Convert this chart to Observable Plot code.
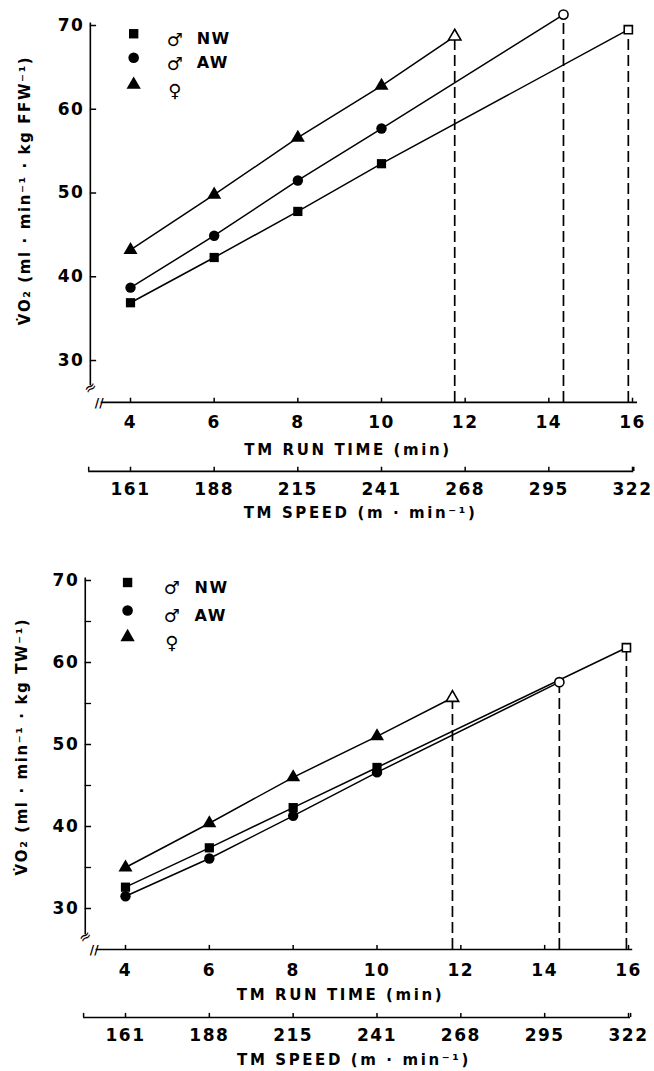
<!DOCTYPE html>
<html><head><meta charset="utf-8">
<script src="https://cdn.jsdelivr.net/npm/d3@7"></script>
<script src="https://cdn.jsdelivr.net/npm/@observablehq/plot@0.6"></script>
<style>
body{margin:0;background:#fff;}
#c{width:654px;}
svg{display:block;}
</style></head><body><div id="c"></div>
<script>
// ---- data ----
const runTimes = [4, 6, 8, 10];
const timeTicks = [4, 6, 8, 10, 12, 14, 16];
const timeTickLabels = ["4", "6", "8", "10", "12", "14", "16"];
const speedTickLabels = ["161", "188", "215", "241", "268", "295", "322"];
const yMajorTicks = [30, 40, 50, 60, 70];
const yMinorTicks = [35, 45, 55, 65];

// VO2 per kg fat-free weight (top panel)
const ffwNW = [36.9, 42.3, 47.8, 53.5];
const ffwAW = [38.7, 44.9, 51.5, 57.7];
const ffwF  = [43.2, 49.8, 56.6, 62.8];
const ffwEndTimes  = [15.9, 14.35, 11.75];   // NW, AW, female (max run time)
const ffwEndValues = [69.5, 71.3, 68.7];

// VO2 per kg total weight (bottom panel)
const twNW = [32.6, 37.4, 42.3, 47.2];
const twAW = [31.5, 36.1, 41.3, 46.6];
const twF  = [35.0, 40.4, 46.0, 51.0];
const twEndTimes  = [15.95, 14.35, 11.8];
const twEndValues = [61.8, 57.6, 55.7];

const groupSymbols = ["square", "circle", "triangle"];
const legendSex = ["\u2642", "\u2642", "\u2640"];
const legendText = ["NW", "AW", ""];

const xTitle = "TM RUN TIME (min)";
const speedTitle = "TM SPEED (m \u00b7 min\u207b\u00b9)";
const yTitleTop = "V\u0307O\u2082 (ml \u00b7 min\u207b\u00b9 \u00b7 kg FFW\u207b\u00b9)";
const yTitleBottom = "V\u0307O\u2082 (ml \u00b7 min\u207b\u00b9 \u00b7 kg TW\u207b\u00b9)";

const FONT = "DejaVu Sans";

function panel(cfg) {
  const series = [cfg.nw, cfg.aw, cfg.f];
  const base = cfg.yDomain[0];
  const tickLen = cfg.tickLen;
  const marks = [];
  // axes
  marks.push(Plot.ruleX([cfg.yAxisX], {y1: cfg.yAxisFrom, y2: cfg.yAxisTo, strokeWidth: 1.6}));
  marks.push(Plot.ruleY(yMajorTicks, {y: d => d, x1: cfg.yAxisX, x2: cfg.yAxisX + cfg.yTickLen, strokeWidth: 1.5}));
  if (cfg.minor) marks.push(Plot.ruleY(yMinorTicks, {y: d => d, x1: cfg.yAxisX, x2: cfg.yAxisX + cfg.yTickLen, strokeWidth: 1.3}));
  marks.push(Plot.text(yMajorTicks, {x: cfg.yAxisX, y: d => d, text: d => String(d), textAnchor: "end", dx: -6, fontSize: 17, fontWeight: "bold"}));
  marks.push(Plot.ruleY([base], {x1: cfg.xAxisFrom, x2: cfg.xAxisTo, strokeWidth: 1.6}));
  marks.push(Plot.ruleX(timeTicks, {x: d => d, y1: base, y2: base + tickLen, strokeWidth: 1.5}));
  marks.push(Plot.text(timeTicks, {x: d => d, y: base, text: (d, i) => timeTickLabels[i], dy: cfg.off.tick, fontSize: 17, fontWeight: "bold"}));
  marks.push(Plot.text([xTitle], {x: cfg.xTitleX, y: base, text: d => d, dy: cfg.off.title, fontSize: 15, fontWeight: "bold"}));
  // break marks
  marks.push(Plot.text(["//"], {x: cfg.xAxisFrom, y: base, text: d => d, dx: -2, dy: 1, fontSize: 12, fontWeight: "bold"}));
  marks.push(Plot.text(["\u2248"], {x: cfg.yAxisX, y: cfg.yAxisFrom, text: d => d, dy: 2, rotate: -35, fontSize: 15}));
  // speed axis
  marks.push(Plot.ruleY([base], {x1: cfg.speedFrom, x2: cfg.speedTo, dy: cfg.off.speed, strokeWidth: 1.6}));
  marks.push(Plot.ruleX([cfg.speedFrom, ...timeTicks, cfg.speedTo], {x: d => d, y1: base, y2: base + tickLen, dy: cfg.off.speed, strokeWidth: 1.5}));
  marks.push(Plot.text(timeTicks, {x: d => d, y: base, text: (d, i) => speedTickLabels[i], dy: cfg.off.speedLabel, fontSize: 17, fontWeight: "bold"}));
  marks.push(Plot.text([speedTitle], {x: cfg.speedTitleX, y: base, text: d => d, dy: cfg.off.speedTitle, fontSize: 15, fontWeight: "bold"}));
  // y title
  marks.push(Plot.text([cfg.yTitle], {frameAnchor: "left", textAnchor: "middle", y: cfg.yTitleY, text: d => d, dx: cfg.yTitleDx, rotate: -90, fontSize: 15, fontWeight: "bold"}));
  // series
  series.forEach((vals, i) => {
    const pts = runTimes.map((t, j) => ({t, v: vals[j]}));
    const end = {t: cfg.endT[i], v: cfg.endV[i]};
    marks.push(Plot.line([...pts, end], {x: "t", y: "v", stroke: "black", strokeWidth: 1.5}));
    marks.push(Plot.ruleX([end], {x: "t", y1: base, y2: "v", strokeDasharray: "11,5", strokeWidth: 1.7}));
  });
  series.forEach((vals, i) => {
    const pts = runTimes.map((t, j) => ({t, v: vals[j]}));
    const end = {t: cfg.endT[i], v: cfg.endV[i]};
    marks.push(Plot.dot(pts, {x: "t", y: "v", symbol: groupSymbols[i], fill: "black", r: 5.2}));
    marks.push(Plot.dot([end], {x: "t", y: "v", symbol: groupSymbols[i], fill: "white", stroke: "black", strokeWidth: 1.6, r: 4.6}));
  });
  // legend
  groupSymbols.forEach((s, i) => {
    marks.push(Plot.dot([s], {frameAnchor: "top-left", dx: cfg.legend.sym, dy: cfg.legend.rows[i], symbol: groupSymbols[i], fill: "black", r: 5.3}));
    marks.push(Plot.text([legendSex[i]], {frameAnchor: "top-left", textAnchor: "middle", dx: cfg.legend.sex, dy: cfg.legend.rows[i] - 1, text: d => d, fontSize: 18, fontWeight: "bold"}));
    marks.push(Plot.text([legendText[i]], {frameAnchor: "top-left", dx: cfg.legend.txt, dy: cfg.legend.rows[i] - 1, text: d => d, textAnchor: "start", fontSize: 16, fontWeight: "bold"}));
  });

  const svg = Plot.plot({
    width: 654,
    height: cfg.height,
    marginLeft: cfg.marginLeft,
    marginRight: cfg.marginRight,
    marginTop: cfg.marginTop,
    marginBottom: cfg.marginBottom,
    x: {domain: cfg.xDomain, axis: null},
    y: {domain: cfg.yDomain, axis: null},
    style: {fontFamily: FONT, color: "black", background: "white", overflow: "visible"},
    marks
  });
  // letter spacing to mimic the lettering of the original
  d3.select(svg).selectAll("text").each(function() {
    const t = this.textContent;
    let ls = "1.5px";
    if (t === xTitle || t === speedTitle) ls = "2.6px";
    else if (t === cfg.yTitle) ls = "1.6px";
    else if (t === "//" || t === "\u2248") ls = "0px";
    this.style.letterSpacing = ls;
  });
  return svg;
}

const topPanel = panel({
  nw: ffwNW, aw: ffwAW, f: ffwF, endT: ffwEndTimes, endV: ffwEndValues,
  height: 555, marginLeft: 88.17, marginRight: 13.63, marginTop: 8.25, marginBottom: 153.1,
  xDomain: [3, 16.2], yDomain: [25, 72], minor: false,
  yAxisX: 3.04, yAxisFrom: 27.0, yAxisTo: 70.3, yTickLen: 0.15, tickLen: 0.5,
  xAxisFrom: 3.3, xAxisTo: 16.12, speedFrom: 3.0, speedTo: 16.03,
  xTitleX: 9.2, speedTitleX: 9.5,
  off: {tick: 20, title: 48, speed: 69, speedLabel: 87, speedTitle: 111},
  yTitle: yTitleTop, yTitleY: 50.3, yTitleDx: -63,
  legend: {sym: 45, sex: 87, txt: 108, rows: [25, 49, 76]}
});
const bottomPanel = panel({
  nw: twNW, aw: twAW, f: twF, endT: twEndTimes, endV: twEndValues,
  height: 516, marginLeft: 83.08, marginRight: 17.6, marginTop: 8.6, marginBottom: 122,
  xDomain: [3, 16.2], yDomain: [25, 72], minor: true,
  yAxisX: 3.04, yAxisFrom: 26.8, yAxisTo: 70.3, yTickLen: 0.15, tickLen: 0.5,
  xAxisFrom: 3.3, xAxisTo: 16.1, speedFrom: 3.0, speedTo: 16.05,
  xTitleX: 9.13, speedTitleX: 9.45,
  off: {tick: 21, title: 46, speed: 68, speedLabel: 86, speedTitle: 111},
  yTitle: yTitleBottom, yTitleY: 49.75, yTitleDx: -61,
  legend: {sym: 44, sex: 89, txt: 111, rows: [18.4, 46.4, 73]}
});
document.getElementById("c").append(topPanel, bottomPanel);
</script></body></html>
